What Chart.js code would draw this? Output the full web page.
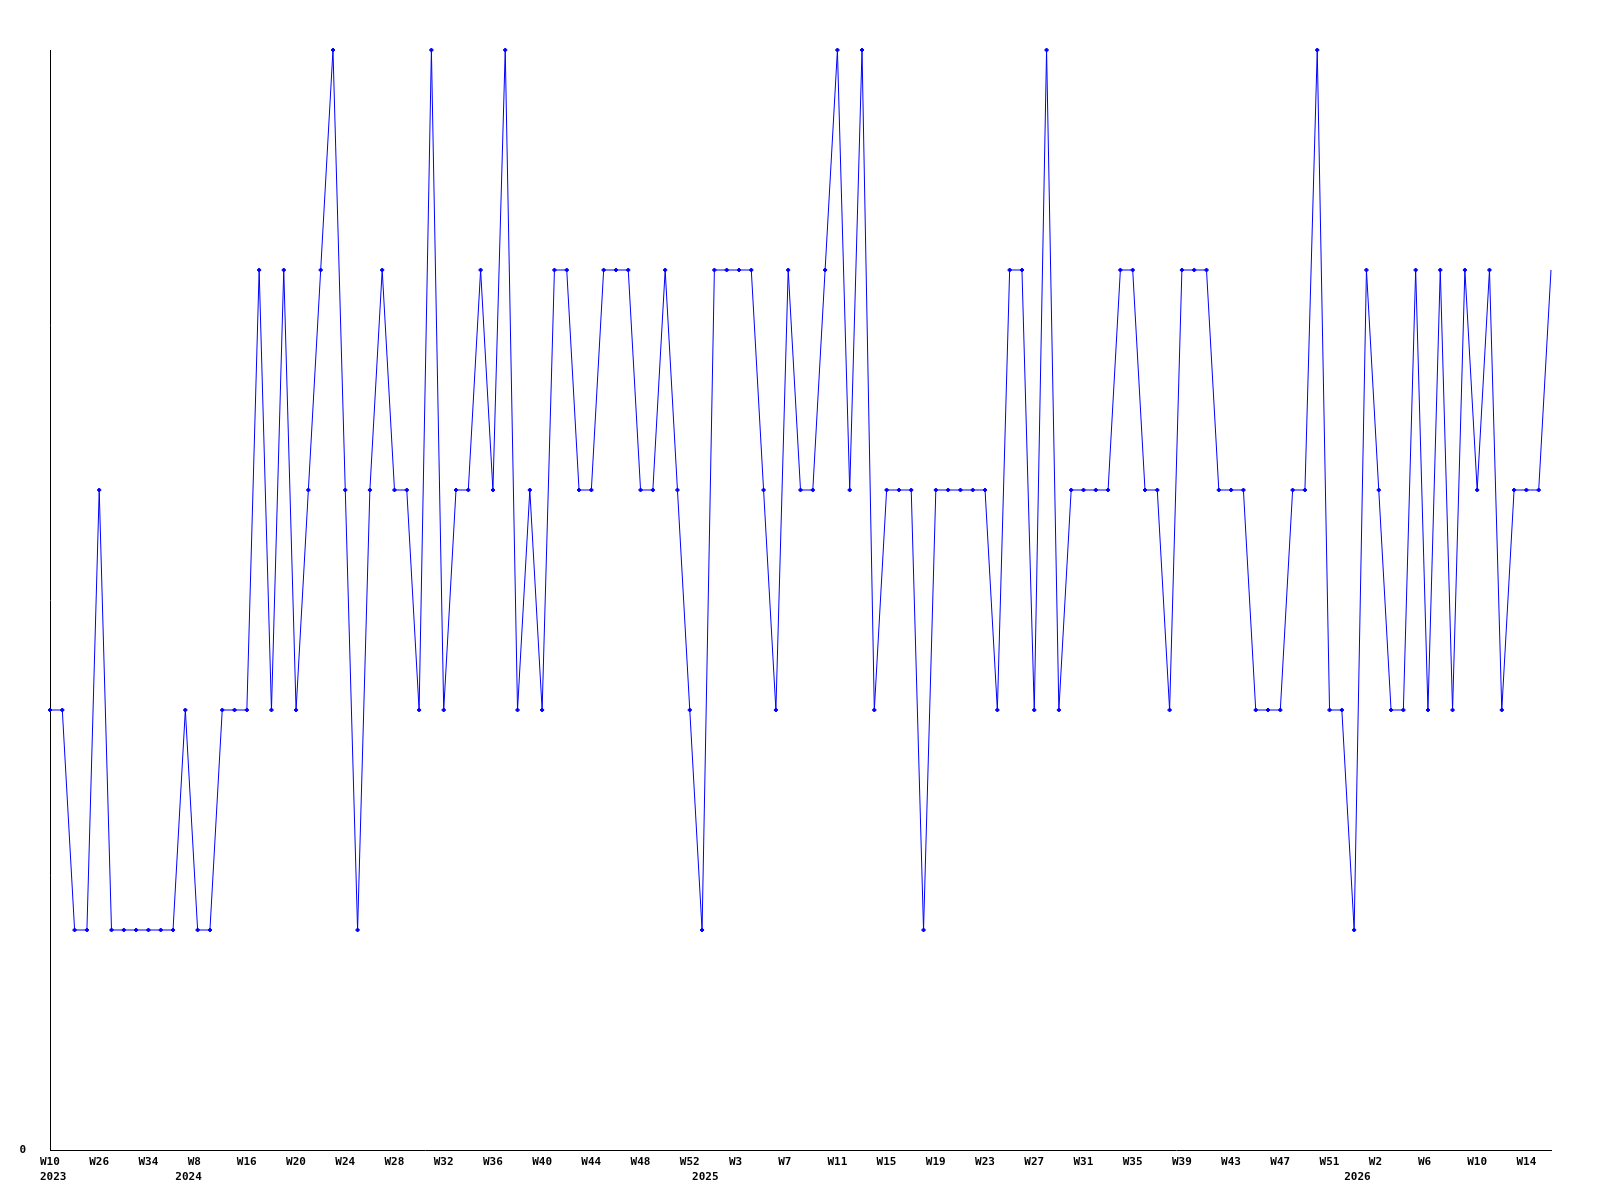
<!DOCTYPE html>
<html>
<head>
<meta charset="utf-8">
<script src="https://cdn.jsdelivr.net/npm/chart.js@4/dist/chart.umd.min.js"></script>
<style>
  html, body { margin: 0; padding: 0; background: #ffffff; }
  #wrap { width: 1600px; height: 1200px; }
</style>
</head>
<body>
<div id="wrap"><canvas id="c" width="1600" height="1200"></canvas></div>
<script>
// Week categories (one per data point)
const weekLabels = [
  "W10","W14","W18","W22","W26","W28","W30","W32","W34","W40","W46",
  "W1","W8","W10","W12","W14","W16","W17","W18","W19","W20","W21","W22","W23","W24","W25","W26","W27","W28","W29","W30","W31","W32","W33","W34","W35","W36","W37","W38","W39","W40","W41","W42","W43","W44","W45","W46","W47","W48","W49","W50","W51","W52",
  "W0","W1","W2","W3","W4","W5","W6","W7","W8","W9","W10","W11","W12","W13","W14","W15","W16","W17","W18","W19","W20","W21","W22","W23","W24","W25","W26","W27","W28","W29","W30","W31","W32","W33","W34","W35","W36","W37","W38","W39","W40","W41","W42","W43","W44","W45","W46","W47","W48","W49","W50","W51","W52",
  "W0","W1","W2","W3","W4","W5","W6","W7","W8","W9","W10","W11","W12","W13","W14","W15","W16"
];

// Series values
const values = [
  2,2,1,1,3,1,1,1,1,1,1,
  2,1,1,2,2,2,4,2,4,2,3,
  4,5,3,1,3,4,3,3,2,5,2,
  3,3,4,3,5,2,3,2,4,4,3,
  3,4,4,4,3,3,4,3,2,1,4,
  4,4,4,3,2,4,3,3,4,5,3,
  5,2,3,3,3,1,3,3,3,3,3,
  2,4,4,2,5,2,3,3,3,3,4,
  4,3,3,2,4,4,4,3,3,3,2,
  2,2,3,3,5,2,2,1,4,3,2,
  2,4,2,4,2,4,3,4,2,3,3,
  3,4
];

// Year tick labels and the category index where each year begins
const yearNames = ["2023","2024","2025","2026"];
const yearStarts = [0, 11, 53, 106];
const labelEvery = 4;
const yTickLabels = ["0"];

const FONT = "'DejaVu Sans Mono', 'Liberation Mono', monospace";

new Chart(document.getElementById('c'), {
  type: 'line',
  data: {
    labels: weekLabels,
    datasets: [{
      data: values,
      borderColor: '#0000ff',
      backgroundColor: '#0000ff',
      borderWidth: 1,
      tension: 0,
      fill: false,
      pointStyle: 'rectRot',
      pointRadius: (ctx) => ctx.dataIndex === values.length - 1 ? 0 : 2,
      pointBorderWidth: 1,
      pointBackgroundColor: '#0000ff',
      pointBorderColor: '#0000ff',
      clip: false
    }]
  },
  options: {
    responsive: false,
    devicePixelRatio: 1,
    animation: false,
    events: [],
    layout: { padding: { top: 50, right: 49, bottom: 0, left: 0 } },
    plugins: { legend: { display: false }, tooltip: { enabled: false }, title: { display: false } },
    scales: {
      x: {
        type: 'category',
        offset: false,
        grid: { display: false, drawTicks: false },
        border: { display: true, color: '#000000', width: 1 },
        ticks: {
          autoSkip: false,
          maxRotation: 0,
          minRotation: 0,
          align: 'start',
          labelOffset: -10,
          padding: 5,
          color: '#000000',
          font: { family: FONT, size: 11, weight: 'bold', lineHeight: '15px' },
          callback: function (value, index) {
            const wk = index % labelEvery === 0 ? weekLabels[index] : '';
            const y = yearStarts.indexOf(index);
            if (y >= 0) return [wk, yearNames[y]];
            return wk;
          }
        },
        afterFit: function (scale) {
          scale.height = 50;
          scale.paddingLeft = 0;
          scale.paddingRight = 0;
        }
      },
      y: {
        min: 0,
        max: 5,
        grid: { display: false, drawTicks: false },
        border: { display: true, color: '#000000', width: 1 },
        afterBuildTicks: function (scale) {
          scale.ticks = [{ value: 0 }];
        },
        ticks: {
          padding: 24,
          color: '#000000',
          font: { family: FONT, size: 11, weight: 'bold' },
          callback: function (value, index) { return yTickLabels[index]; }
        },
        afterFit: function (scale) {
          scale.width = 50;
          scale.paddingTop = 0;
          scale.paddingBottom = 0;
        }
      }
    }
  }
});
</script>
</body>
</html>
